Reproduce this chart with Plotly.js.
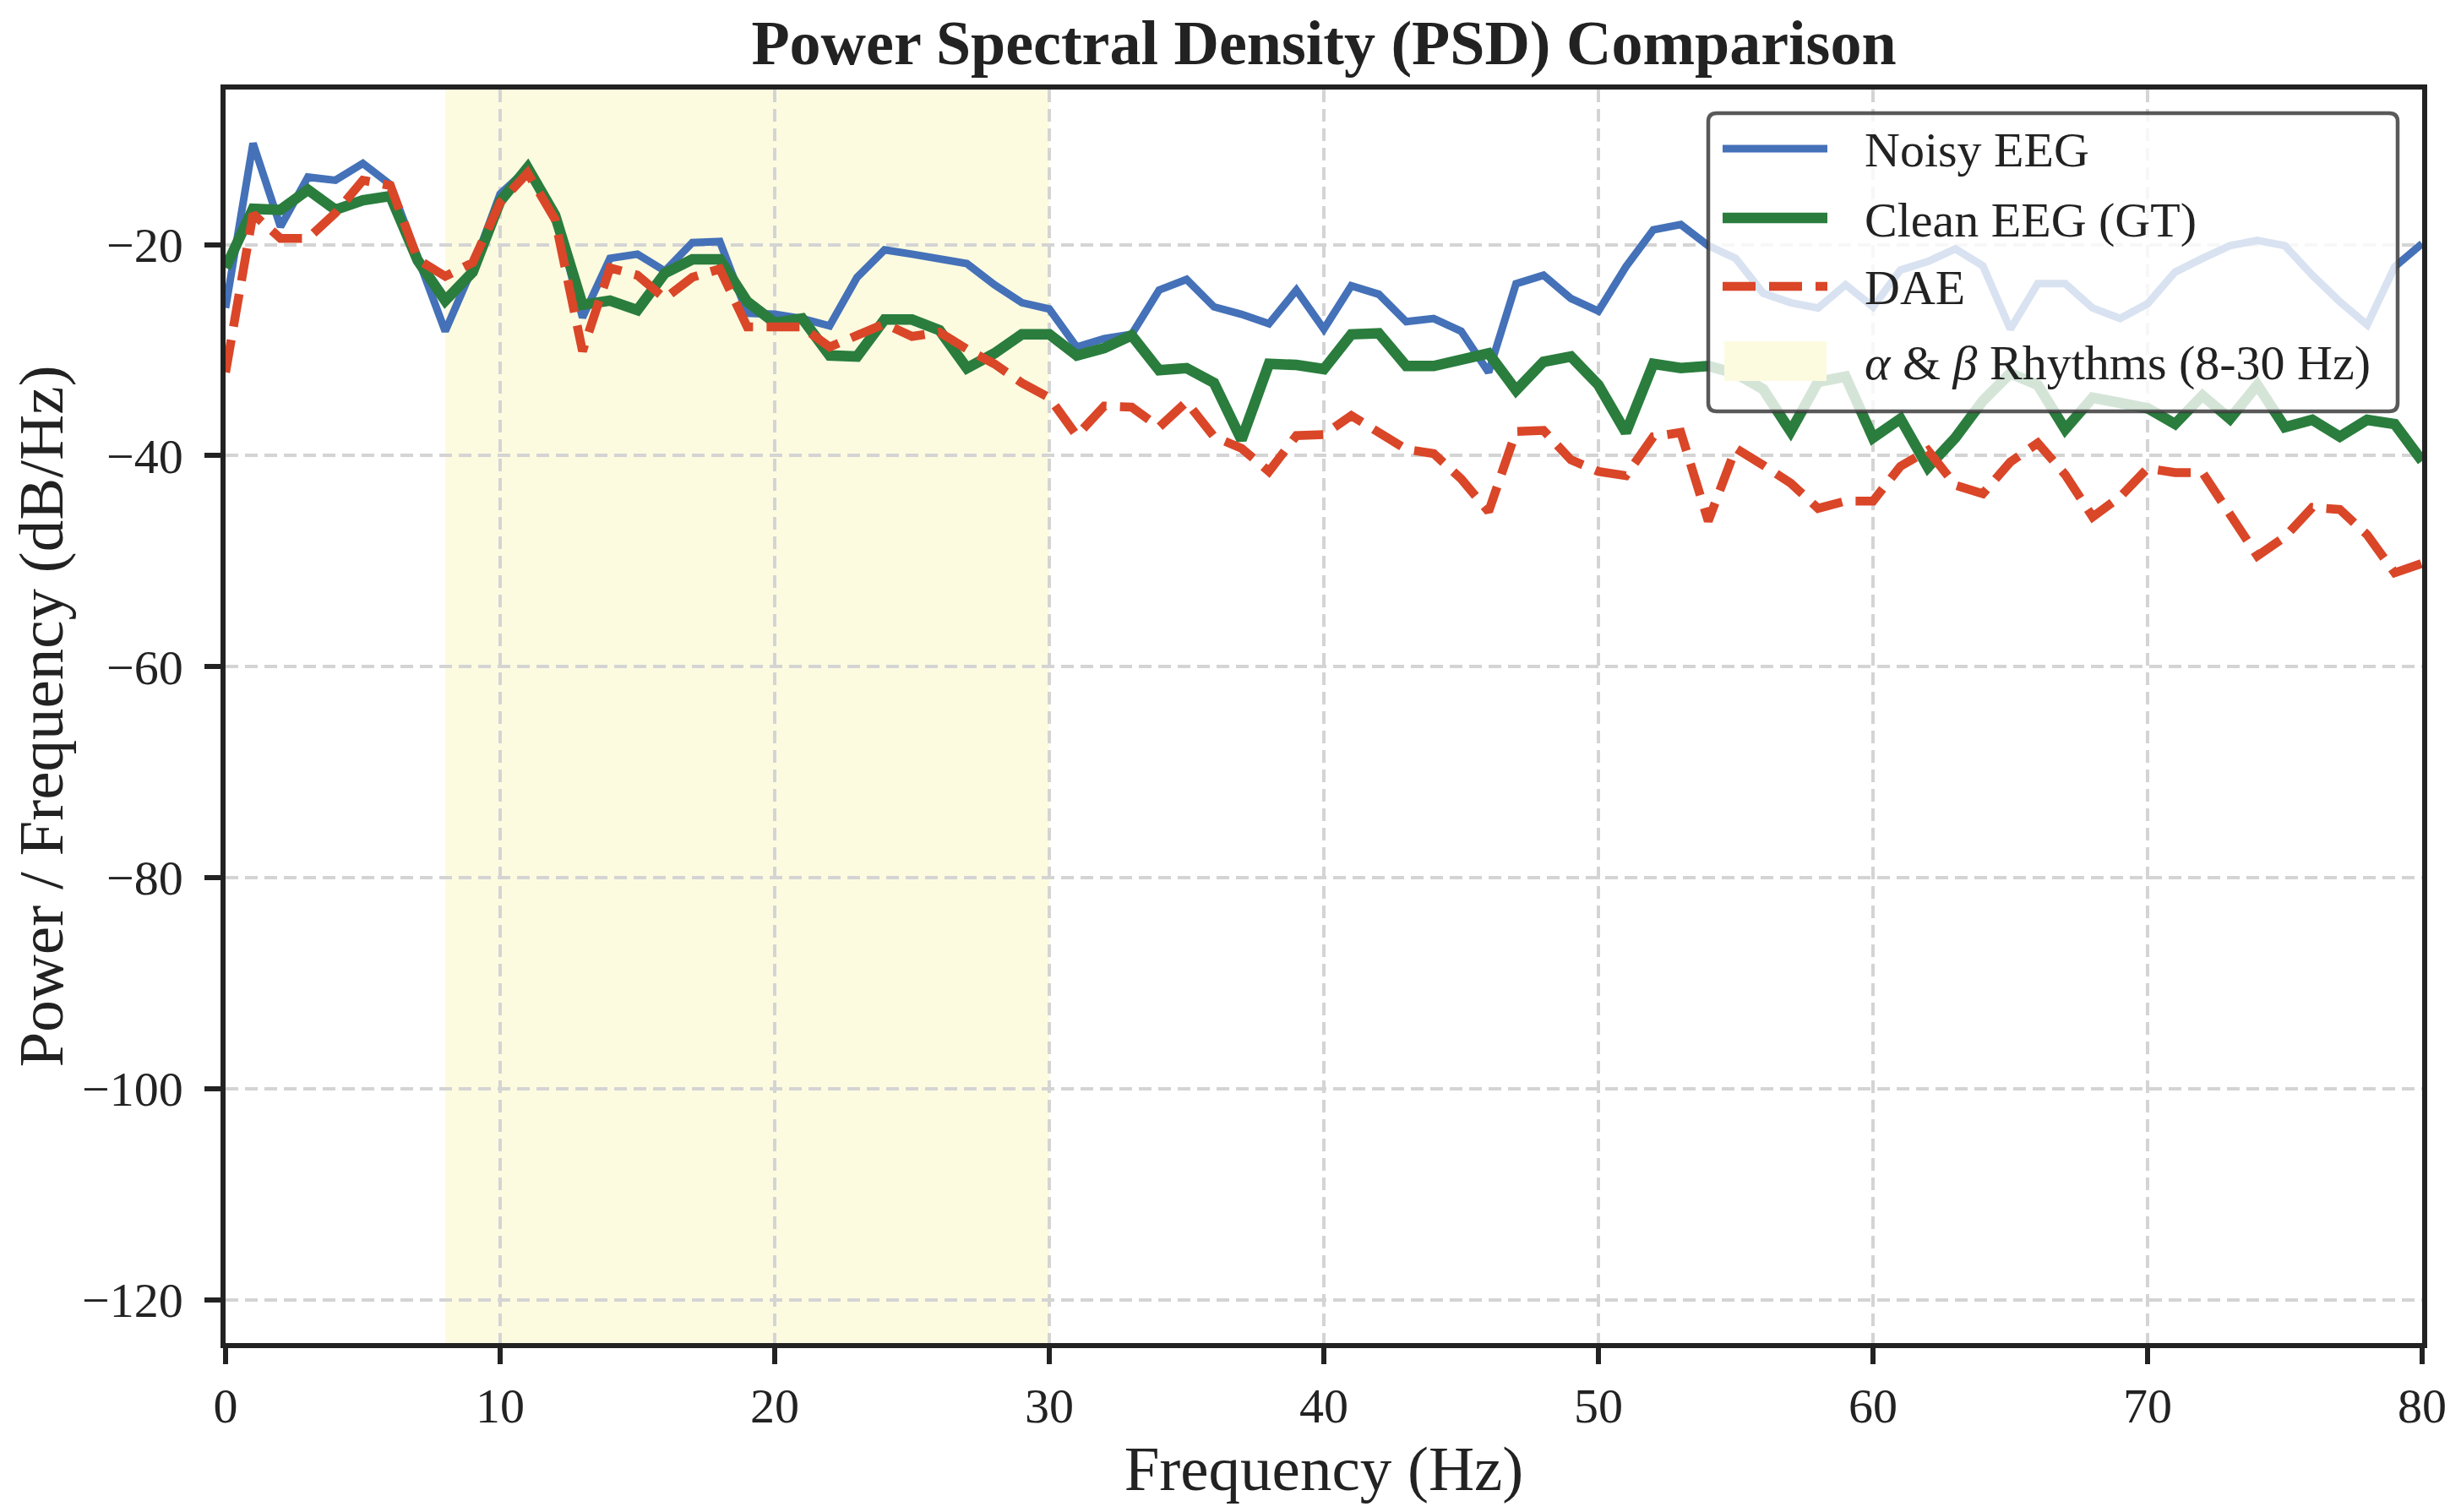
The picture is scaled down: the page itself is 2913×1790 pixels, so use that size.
<!DOCTYPE html>
<html>
<head>
<meta charset="utf-8">
<script src="https://cdn.plot.ly/plotly-3.0.1.min.js"></script>
<style>
  html, body { margin: 0; padding: 0; background: #fff; }
  #psd { width: 2913px; height: 1790px; }
</style>
</head>
<body>
<div id="psd"></div>
<script>
// frequency bins (Hz)
const freqHz = [
  0, 1, 2, 3, 4, 5, 6, 7, 8, 9, 10, 11, 12, 13, 14, 15, 16, 17, 18, 19,
  20, 21, 22, 23, 24, 25, 26, 27, 28, 29, 30, 31, 32, 33, 34, 35, 36, 37, 38, 39,
  40, 41, 42, 43, 44, 45, 46, 47, 48, 49, 50, 51, 52, 53, 54, 55, 56, 57, 58, 59,
  60, 61, 62, 63, 64, 65, 66, 67, 68, 69, 70, 71, 72, 73, 74, 75, 76, 77, 78, 79, 80
]

// PSD in dB/Hz
const noisyEEG = [
  -26.0, -10.4, -18.3, -13.6, -13.9, -12.3, -14.3, -21.4, -28.2, -22.2,
  -15.2, -12.8, -17.1, -26.9, -21.3, -20.9, -22.5, -19.8, -19.7, -26.5,
  -26.6, -27.0, -27.7, -23.1, -20.5, -20.9, -21.3, -21.8, -23.8, -25.5,
  -26.1, -29.7, -28.9, -28.5, -24.3, -23.3, -25.9, -26.6, -27.5, -24.3,
  -28.0, -23.9, -24.7, -27.3, -27.0, -28.2, -32.1, -23.7, -22.9, -25.1,
  -26.3, -22.1, -18.6, -18.1, -20.1, -21.3, -24.6, -25.5, -26.0, -23.8,
  -25.9, -22.4, -21.6, -20.4, -22.0, -28.0, -23.7, -23.7, -26.0, -27.0,
  -25.6, -22.6, -21.3, -20.1, -19.6, -20.1, -22.9, -25.4, -27.6, -22.1, -19.9
]

const cleanEEG = [
  -22.2, -16.6, -16.7, -14.8, -16.7, -15.8, -15.4, -21.5, -25.3, -22.6,
  -15.9, -12.7, -17.2, -25.7, -25.3, -26.2, -22.7, -21.4, -21.4, -25.4,
  -27.4, -27.0, -30.5, -30.6, -27.1, -27.1, -28.1, -31.7, -30.3, -28.5,
  -28.5, -30.5, -29.8, -28.6, -31.9, -31.7, -33.1, -38.5, -31.3, -31.4,
  -31.8, -28.5, -28.4, -31.5, -31.5, -31.0, -30.3, -33.8, -31.1, -30.6,
  -33.3, -37.8, -31.3, -31.7, -31.5, -32.2, -33.7, -37.7, -33.0, -32.5,
  -38.3, -36.5, -41.1, -38.3, -34.8, -32.2, -33.3, -37.5, -34.5, -35.0,
  -35.5, -37.0, -34.3, -36.5, -33.3, -37.3, -36.6, -38.2, -36.6, -37.0, -40.5
]

const daeEEG = [
  -32.1, -17.1, -19.4, -19.4, -17.0, -13.9, -14.4, -21.4, -23.0, -21.7,
  -16.0, -13.2, -17.6, -30.1, -22.2, -22.9, -25.1, -23.1, -22.3, -27.8,
  -27.8, -27.8, -29.7, -28.7, -27.5, -28.7, -28.3, -29.9, -31.3, -33.1,
  -34.5, -38.1, -35.3, -35.4, -37.3, -34.9, -38.2, -39.3, -41.5, -38.1,
  -38.0, -36.2, -37.7, -39.4, -39.8, -42.2, -45.3, -37.7, -37.6, -40.4,
  -41.5, -41.9, -38.2, -37.8, -46.2, -39.3, -40.9, -42.6, -45.0, -44.3,
  -44.3, -41.0, -39.5, -42.8, -43.6, -40.6, -38.8, -41.8, -45.8, -43.9,
  -41.2, -41.6, -41.6, -45.4, -49.5, -47.7, -44.9, -45.1, -47.5, -51.1, -50.2
]

// alpha & beta band edges (Hz)
const bandHz = [8, 30]
const bandLabel = '<i>α</i> & <i>β</i> Rhythms (8-30 Hz)'

const serif = 'Liberation Serif, Times New Roman, serif'
const ink = '#222222'
const bandFill = 'rgb(252,251,224)'

const traces = [
  {
    x: freqHz, y: noisyEEG, name: 'Noisy EEG',
    type: 'scatter', mode: 'lines',
    line: { color: '#4471B8', width: 9 }
  },
  {
    x: freqHz, y: cleanEEG, name: 'Clean EEG (GT)',
    type: 'scatter', mode: 'lines',
    line: { color: '#2A7D3D', width: 12.5 }
  },
  {
    x: freqHz, y: daeEEG, name: 'DAE',
    type: 'scatter', mode: 'lines',
    line: { color: '#DA4628', width: 10.5, dash: '39px,16px' }
  }
]

// plot box in page pixels, used to place the hand drawn legend
const margin = { l: 267, r: 46, t: 106, b: 200 }
const W = 2913, H = 1790
const plotW = W - margin.l - margin.r
const plotH = H - margin.t - margin.b
const px = v => (v - margin.l) / plotW
const py = v => 1 - (v - margin.t) / plotH

// legend frame (matplotlib style: rounded, semi transparent)
const lg = { left: 2022, right: 2838, top: 134, bottom: 487, r: 10 }
const rowY = [176, 258, 339, 427]
const keyX = [2039, 2163]
const textX = 2205

function roundedBox(b) {
  const x0 = px(b.left), x1 = px(b.right), y0 = py(b.bottom), y1 = py(b.top)
  const rx = b.r / plotW, ry = b.r / plotH
  return `M${x0 + rx},${y1} L${x1 - rx},${y1} Q${x1},${y1} ${x1},${y1 - ry} ` +
    `L${x1},${y0 + ry} Q${x1},${y0} ${x1 - rx},${y0} L${x0 + rx},${y0} ` +
    `Q${x0},${y0} ${x0},${y0 + ry} L${x0},${y1 - ry} Q${x0},${y1} ${x0 + rx},${y1} Z`
}

const shapes = [
  {
    type: 'rect', xref: 'x', yref: 'paper',
    x0: bandHz[0], x1: bandHz[1], y0: 0, y1: 1,
    fillcolor: bandFill, line: { width: 0 }, layer: 'below'
  },
  {
    type: 'path', xref: 'paper', yref: 'paper', layer: 'above',
    path: roundedBox(lg),
    fillcolor: 'rgba(255,255,255,0.8)', line: { color: 'rgba(60,60,60,0.85)', width: 4.5 }
  }
]
const annotations = []

traces.forEach((t, i) => {
  shapes.push({
    type: 'line', xref: 'paper', yref: 'paper', layer: 'above',
    x0: px(keyX[0]), x1: px(keyX[1]), y0: py(rowY[i]), y1: py(rowY[i]),
    line: { color: t.line.color, width: t.line.width, dash: t.line.dash || 'solid' }
  })
  annotations.push({
    xref: 'paper', yref: 'paper', x: px(textX), y: py(rowY[i] + 2),
    xanchor: 'left', yanchor: 'middle', showarrow: false,
    text: t.name, font: { family: serif, size: 58, color: ink }
  })
})
shapes.push({
  type: 'rect', xref: 'paper', yref: 'paper', layer: 'above',
  x0: px(keyX[0] + 2), x1: px(keyX[1] - 1), y0: py(rowY[3] + 24), y1: py(rowY[3] - 23),
  fillcolor: bandFill, line: { width: 0 }
})
annotations.push({
  xref: 'paper', yref: 'paper', x: px(textX), y: py(rowY[3] + 2),
  xanchor: 'left', yanchor: 'middle', showarrow: false,
  text: bandLabel, font: { family: serif, size: 58, color: ink }
})

const axisCommon = {
  showline: true, mirror: true, linecolor: ink, linewidth: 5.5,
  ticks: 'outside', ticklen: 19, tickwidth: 5.5, tickcolor: ink,
  tickfont: { family: serif, size: 58, color: ink },
  showgrid: true, gridcolor: 'rgb(212,212,212)', gridwidth: 4, griddash: '15px,8px',
  zeroline: false
}

const layout = {
  width: W, height: H,
  margin: margin,
  showlegend: false,
  paper_bgcolor: '#ffffff', plot_bgcolor: '#ffffff',
  font: { family: serif, color: ink },
  title: {
    text: 'Power Spectral Density (PSD) Comparison',
    font: { family: serif, size: 74, weight: 'bold', color: ink },
    x: 0.5, xref: 'paper', y: 0.972, yref: 'container', yanchor: 'middle'
  },
  xaxis: Object.assign({}, axisCommon, {
    range: [0, 80], dtick: 10, tick0: 0,
    title: { text: 'Frequency (Hz)', font: { family: serif, size: 75, color: ink }, standoff: 4 }
  }),
  yaxis: Object.assign({}, axisCommon, {
    range: [-124.1, -5.3], dtick: 20, tick0: -120,
    ticklabelstandoff: 14,
    title: { text: 'Power / Frequency (dB/Hz)', font: { family: serif, size: 75, color: ink }, standoff: 0 }
  }),
  shapes: shapes,
  annotations: annotations
}

Plotly.newPlot('psd', traces, layout, { displayModeBar: false, responsive: false })
</script>
</body>
</html>
